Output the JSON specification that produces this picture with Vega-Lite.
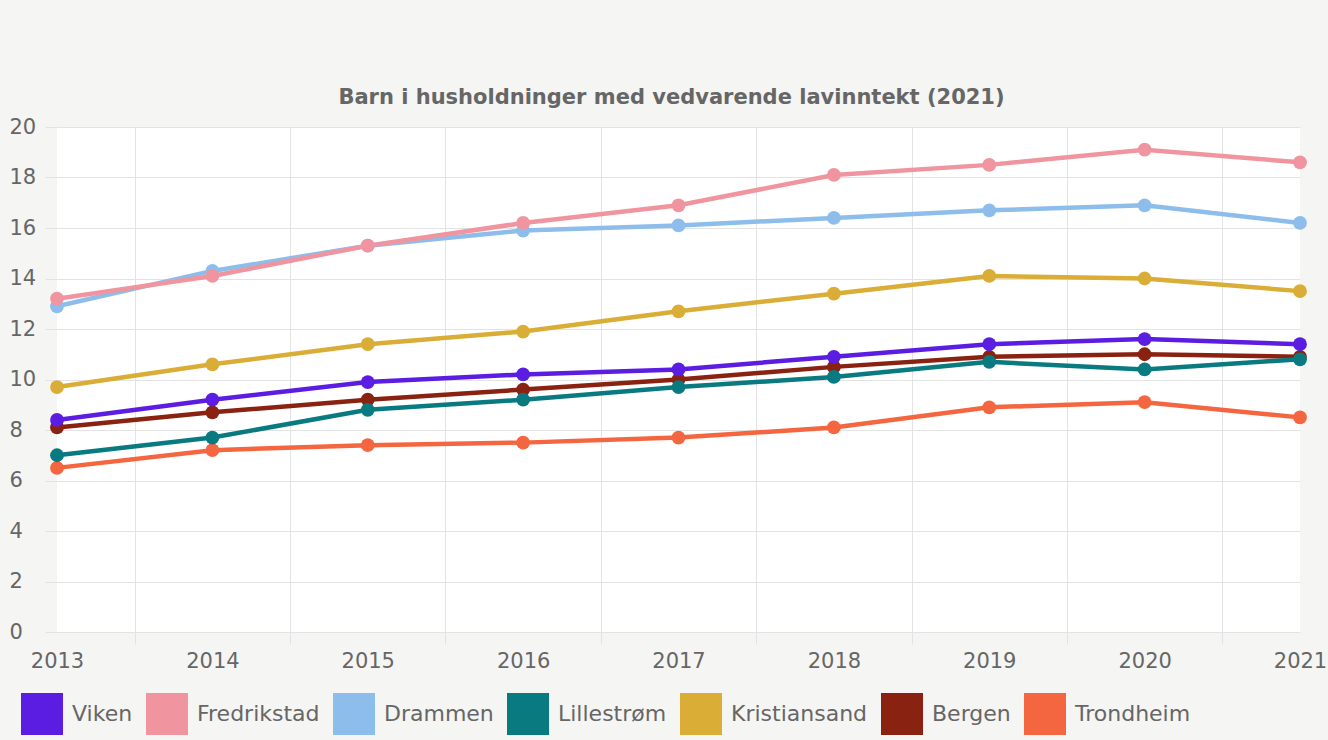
{
  "$schema": "https://vega.github.io/schema/vega-lite/v6.json",
  "width": 1243,
  "height": 505,
  "autosize": {"type": "none"},
  "padding": {"left": 57, "top": 127, "right": 28, "bottom": 108},
  "background": "#f5f5f4",
  "view": {"fill": "white", "stroke": null},
  "title": {
    "text": "Barn i husholdninger med vedvarende lavinntekt (2021)",
    "font": "DejaVu Sans",
    "fontSize": 21,
    "fontWeight": "bold",
    "color": "#666666",
    "anchor": "middle",
    "frame": "group",
    "baseline": "alphabetic",
    "offset": 22,
    "dx": -7,
    "dy": 31
  },
  "config": {
    "font": "DejaVu Sans",
    "axis": {
      "labelFont": "DejaVu Sans",
      "labelFontSize": 21,
      "labelColor": "#666666",
      "gridColor": "#e3e3e3",
      "tickColor": "#e3e3e3",
      "domain": false,
      "title": null
    }
  },
  "data": {
    "values": [
      {"kommune": "Trondheim", "year": 2013, "value": 6.5},
      {"kommune": "Trondheim", "year": 2014, "value": 7.2},
      {"kommune": "Trondheim", "year": 2015, "value": 7.4},
      {"kommune": "Trondheim", "year": 2016, "value": 7.5},
      {"kommune": "Trondheim", "year": 2017, "value": 7.7},
      {"kommune": "Trondheim", "year": 2018, "value": 8.1},
      {"kommune": "Trondheim", "year": 2019, "value": 8.9},
      {"kommune": "Trondheim", "year": 2020, "value": 9.1},
      {"kommune": "Trondheim", "year": 2021, "value": 8.5},
      {"kommune": "Bergen", "year": 2013, "value": 8.1},
      {"kommune": "Bergen", "year": 2014, "value": 8.7},
      {"kommune": "Bergen", "year": 2015, "value": 9.2},
      {"kommune": "Bergen", "year": 2016, "value": 9.6},
      {"kommune": "Bergen", "year": 2017, "value": 10.0},
      {"kommune": "Bergen", "year": 2018, "value": 10.5},
      {"kommune": "Bergen", "year": 2019, "value": 10.9},
      {"kommune": "Bergen", "year": 2020, "value": 11.0},
      {"kommune": "Bergen", "year": 2021, "value": 10.9},
      {"kommune": "Kristiansand", "year": 2013, "value": 9.7},
      {"kommune": "Kristiansand", "year": 2014, "value": 10.6},
      {"kommune": "Kristiansand", "year": 2015, "value": 11.4},
      {"kommune": "Kristiansand", "year": 2016, "value": 11.9},
      {"kommune": "Kristiansand", "year": 2017, "value": 12.7},
      {"kommune": "Kristiansand", "year": 2018, "value": 13.4},
      {"kommune": "Kristiansand", "year": 2019, "value": 14.1},
      {"kommune": "Kristiansand", "year": 2020, "value": 14.0},
      {"kommune": "Kristiansand", "year": 2021, "value": 13.5},
      {"kommune": "Lillestrøm", "year": 2013, "value": 7.0},
      {"kommune": "Lillestrøm", "year": 2014, "value": 7.7},
      {"kommune": "Lillestrøm", "year": 2015, "value": 8.8},
      {"kommune": "Lillestrøm", "year": 2016, "value": 9.2},
      {"kommune": "Lillestrøm", "year": 2017, "value": 9.7},
      {"kommune": "Lillestrøm", "year": 2018, "value": 10.1},
      {"kommune": "Lillestrøm", "year": 2019, "value": 10.7},
      {"kommune": "Lillestrøm", "year": 2020, "value": 10.4},
      {"kommune": "Lillestrøm", "year": 2021, "value": 10.8},
      {"kommune": "Drammen", "year": 2013, "value": 12.9},
      {"kommune": "Drammen", "year": 2014, "value": 14.3},
      {"kommune": "Drammen", "year": 2015, "value": 15.3},
      {"kommune": "Drammen", "year": 2016, "value": 15.9},
      {"kommune": "Drammen", "year": 2017, "value": 16.1},
      {"kommune": "Drammen", "year": 2018, "value": 16.4},
      {"kommune": "Drammen", "year": 2019, "value": 16.7},
      {"kommune": "Drammen", "year": 2020, "value": 16.9},
      {"kommune": "Drammen", "year": 2021, "value": 16.2},
      {"kommune": "Fredrikstad", "year": 2013, "value": 13.2},
      {"kommune": "Fredrikstad", "year": 2014, "value": 14.1},
      {"kommune": "Fredrikstad", "year": 2015, "value": 15.3},
      {"kommune": "Fredrikstad", "year": 2016, "value": 16.2},
      {"kommune": "Fredrikstad", "year": 2017, "value": 16.9},
      {"kommune": "Fredrikstad", "year": 2018, "value": 18.1},
      {"kommune": "Fredrikstad", "year": 2019, "value": 18.5},
      {"kommune": "Fredrikstad", "year": 2020, "value": 19.1},
      {"kommune": "Fredrikstad", "year": 2021, "value": 18.6},
      {"kommune": "Viken", "year": 2013, "value": 8.4},
      {"kommune": "Viken", "year": 2014, "value": 9.2},
      {"kommune": "Viken", "year": 2015, "value": 9.9},
      {"kommune": "Viken", "year": 2016, "value": 10.2},
      {"kommune": "Viken", "year": 2017, "value": 10.4},
      {"kommune": "Viken", "year": 2018, "value": 10.9},
      {"kommune": "Viken", "year": 2019, "value": 11.4},
      {"kommune": "Viken", "year": 2020, "value": 11.6},
      {"kommune": "Viken", "year": 2021, "value": 11.4}
    ]
  },
  "encoding": {
    "x": {
      "field": "year",
      "type": "quantitative",
      "scale": {"domain": [2013, 2021], "nice": false, "zero": false},
      "axis": {
        "values": [2013, 2013.5, 2014, 2014.5, 2015, 2015.5, 2016, 2016.5, 2017, 2017.5, 2018, 2018.5, 2019, 2019.5, 2020, 2020.5, 2021],
        "labelExpr": "datum.value % 1 === 0 ? '' + datum.value : ''",
        "labelOverlap": false,
        "labelFlush": false,
        "labelPadding": 6,
        "tickSize": 12,
        "grid": true,
        "gridOpacity": {"condition": {"test": "datum.value % 1 === 0", "value": 0}, "value": 1},
        "tickOpacity": {"condition": {"test": "datum.value % 1 === 0", "value": 0}, "value": 1}
      }
    },
    "y": {
      "field": "value",
      "type": "quantitative",
      "scale": {"domain": [0, 20], "nice": false},
      "axis": {
        "values": [0, 2, 4, 6, 8, 10, 12, 14, 16, 18, 20],
        "labelAlign": "left",
        "tickSize": 12,
        "labelPadding": 36,
        "grid": true
      }
    },
    "color": {
      "field": "kommune",
      "type": "nominal",
      "scale": {
        "domain": ["Viken", "Fredrikstad", "Drammen", "Lillestrøm", "Kristiansand", "Bergen", "Trondheim"],
        "range": ["#5b1de2", "#f0959f", "#8dbdea", "#087a80", "#d9ad36", "#8a2211", "#f4663f"]
      },
      "legend": {
        "title": null,
        "orient": "none",
        "direction": "horizontal",
        "legendX": -36,
        "legendY": 566,
        "symbolType": "square",
        "symbolSize": 1764,
        "symbolStrokeWidth": 0,
        "symbolOpacity": 1,
        "labelFont": "DejaVu Sans",
        "labelFontSize": 22,
        "labelColor": "#666666",
        "labelOffset": 9,
        "columnPadding": 13,
        "labelLimit": 300
      }
    }
  },
  "layer": [
    {"mark": {"type": "line", "strokeWidth": 4.5}},
    {"mark": {"type": "point", "filled": true, "opacity": 1, "size": 190}}
  ]
}
